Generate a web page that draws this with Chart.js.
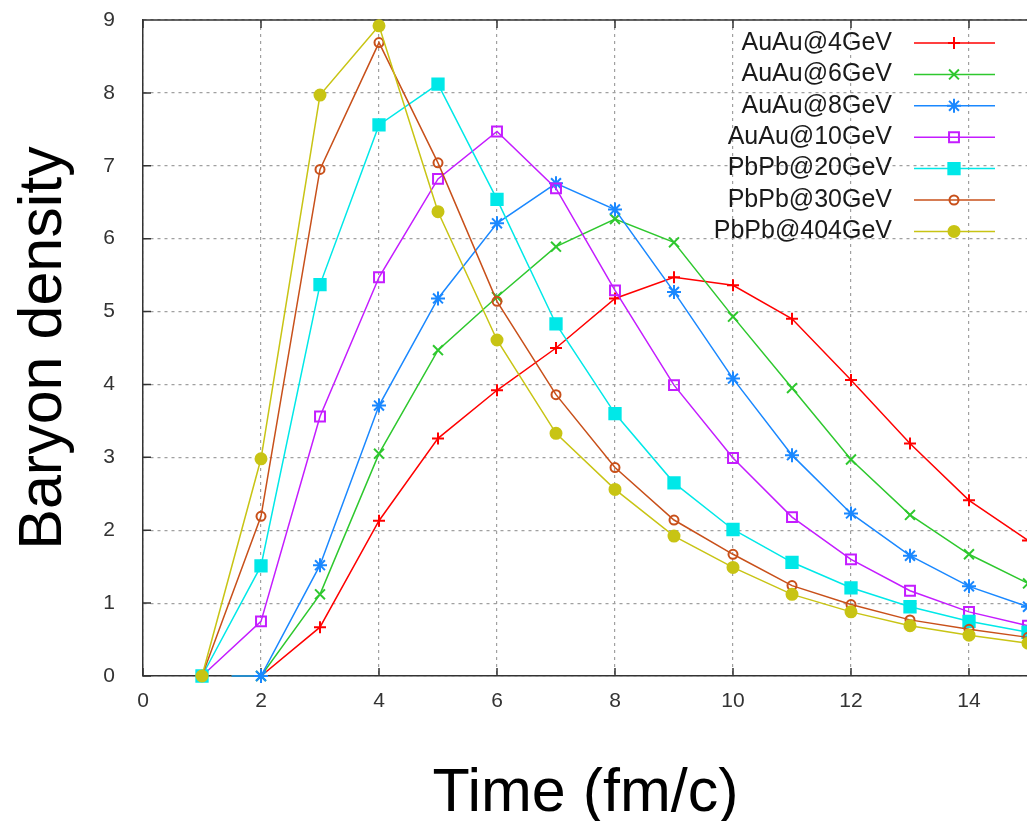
<!DOCTYPE html>
<html>
<head>
<meta charset="utf-8">
<script src="https://cdn.jsdelivr.net/npm/chart.js@4/dist/chart.umd.min.js"></script>
<style>
  html, body { margin: 0; padding: 0; background: #fff; overflow: hidden; }
  #wrap { width: 1027px; height: 821px; overflow: hidden; }
  #density-chart { display: block; }
</style>
</head>
<body>
<!-- the frame's right edge falls just outside the 1027px picture, so the canvas is a bit wider and cropped -->
<div id="wrap"><canvas id="density-chart" width="1038" height="821"></canvas></div>
<script>
// time points (fm/c)
let times = [1, 1.5, 2, 3, 4, 5, 6, 7, 8, 9, 10, 11, 12, 13, 14, 15];

let labels = ['AuAu@4GeV', 'AuAu@6GeV', 'AuAu@8GeV', 'AuAu@10GeV', 'PbPb@20GeV', 'PbPb@30GeV', 'PbPb@404GeV'];

// baryon density
let au4   = [null, 0, 0, 0.67, 2.13, 3.26, 3.92, 4.50, 5.18, 5.47, 5.36, 4.90, 4.06, 3.19, 2.41, 1.86];
let au6   = [null, 0, 0, 1.12, 3.05, 4.47, 5.20, 5.89, 6.27, 5.95, 4.93, 3.95, 2.97, 2.21, 1.67, 1.27];
let au8   = [null, 0, 0, 1.52, 3.71, 5.18, 6.21, 6.76, 6.40, 5.27, 4.08, 3.03, 2.23, 1.65, 1.23, 0.95];
let au10  = [0, null, 0.75, 3.56, 5.47, 6.82, 7.47, 6.69, 5.29, 3.99, 2.99, 2.18, 1.60, 1.17, 0.88, 0.69];
let pb20  = [0, null, 1.51, 5.37, 7.56, 8.12, 6.54, 4.83, 3.60, 2.65, 2.01, 1.56, 1.21, 0.95, 0.75, 0.60];
let pb30  = [0, null, 2.19, 6.95, 8.69, 7.04, 5.14, 3.86, 2.86, 2.14, 1.67, 1.24, 0.98, 0.77, 0.64, 0.53];
let pb404 = [0, null, 2.98, 7.97, 8.92, 6.37, 4.61, 3.33, 2.56, 1.92, 1.49, 1.12, 0.88, 0.69, 0.56, 0.45];

let series = [au4, au6, au8, au10, pb20, pb30, pb404];

let yTicks = [0, 1, 2, 3, 4, 5, 6, 7, 8, 9];
let xTicks = [0, 2, 4, 6, 8, 10, 12, 14];

// gnuplot-ish look
let colors = ['#ff0000', '#2ec82e', '#1a88ff', '#c41cff', '#00e8e8', '#c8501a', '#c8c414'];
let styles = [
    { pointStyle: 'cross',    radius: 6, fill: false },
    { pointStyle: 'crossRot', radius: 7, fill: false },
    { pointStyle: 'star',     radius: 7, fill: false },
    { pointStyle: 'rect',     radius: 7, fill: false },
    { pointStyle: 'rect',     radius: 8, fill: true },
    { pointStyle: 'circle',   radius: 4.5, fill: false },
    { pointStyle: 'circle',   radius: 5.5, fill: true }
];
let FONT = '"Liberation Sans", Arial, sans-serif';

function buildDatasets() {
    return series.map(function (vals, i) {
        let pts = [];
        let radii = [];
        times.forEach(function (t, k) {
            if (vals[k] === null) return;
            pts.push({ x: t, y: vals[k] });
            // the 1.5 fm/c point only carries the line, no marker
            radii.push(t === 1.5 ? 0 : styles[i].radius);
        });
        return {
            label: labels[i],
            data: pts,
            borderColor: colors[i],
            borderWidth: 1.5,
            pointStyle: styles[i].pointStyle,
            pointRadius: radii,
            pointBorderWidth: 2,
            pointBorderColor: colors[i],
            pointBackgroundColor: styles[i].fill ? colors[i] : 'rgba(0,0,0,0)',
            tension: 0,
            clip: false,
            order: -i
        };
    });
}

// inward tick marks, top border and the key box
let framePlugin = {
    id: 'frame',
    beforeDatasetsDraw(chart) {
        let ctx = chart.ctx;
        let a = chart.chartArea;
        let xs = chart.scales.x, ys = chart.scales.y;
        ctx.save();
        ctx.strokeStyle = '#333';
        ctx.lineWidth = 1.5;
        ctx.beginPath();
        ctx.moveTo(a.left, a.top);
        ctx.lineTo(a.right, a.top);
        xTicks.forEach(function (v) {
            let px = xs.getPixelForValue(v);
            ctx.moveTo(px, a.bottom); ctx.lineTo(px, a.bottom - 8);
            ctx.moveTo(px, a.top);    ctx.lineTo(px, a.top + 8);
        });
        yTicks.forEach(function (v) {
            let py = ys.getPixelForValue(v);
            ctx.moveTo(a.left, py); ctx.lineTo(a.left + 8, py);
        });
        ctx.stroke();
        ctx.restore();
    },
    afterDraw(chart) {
        let ctx = chart.ctx;
        let textRight = 892, lineL = 914, lineR = 995, markX = 954;
        ctx.save();
        ctx.font = '25px ' + FONT;
        ctx.textAlign = 'right';
        ctx.textBaseline = 'middle';
        chart.data.datasets.forEach(function (ds, i) {
            let y = 43 + i * 31.4;
            ctx.fillStyle = '#1a1a1a';
            ctx.fillText(ds.label, textRight, y);
            ctx.strokeStyle = ds.borderColor;
            ctx.lineWidth = 1.5;
            ctx.beginPath();
            ctx.moveTo(lineL, y);
            ctx.lineTo(lineR, y);
            ctx.stroke();
            if (Chart.helpers && Chart.helpers.drawPoint) {
                ctx.fillStyle = ds.pointBackgroundColor;
                ctx.strokeStyle = ds.pointBorderColor;
                ctx.lineWidth = 2;
                Chart.helpers.drawPoint(ctx, {
                    pointStyle: styles[i].pointStyle,
                    radius: styles[i].radius,
                    rotation: 0,
                    borderWidth: 2
                }, markX, y);
            }
        });
        ctx.restore();
    }
};

function drawChart(canvasId) {
    let chart_ele = document.getElementById(canvasId).getContext('2d');

    new Chart(chart_ele, {
        type: 'line',
        data: { datasets: buildDatasets() },
        options: {
            responsive: false,
            animation: false,
            events: [],
            spanGaps: true,
            layout: { padding: { top: 20, right: 0, bottom: 0, left: 0 } },
            plugins: {
                legend: { display: false },
                tooltip: { enabled: false }
            },
            scales: {
                x: {
                    type: 'linear',
                    min: 0,
                    max: 15,
                    afterFit: function (scale) {
                        scale.height = 145;
                        scale.paddingLeft = 0;
                        scale.paddingRight = 0;
                    },
                    ticks: {
                        stepSize: 2,
                        padding: 13,
                        color: '#333',
                        font: { family: FONT, size: 21 },
                        maxRotation: 0,
                        callback: function (v) { return xTicks.indexOf(v) >= 0 ? String(v) : ''; }
                    },
                    grid: { color: '#a0a0a0', lineWidth: 1.2, drawTicks: false },
                    border: { display: true, color: '#333', width: 1.5, dash: [3, 4] },
                    title: {
                        display: true,
                        text: 'Time (fm/c)',
                        color: '#000',
                        font: { family: FONT, size: 61, lineHeight: 0.88 },
                        padding: { top: 0, bottom: 0 }
                    }
                },
                y: {
                    min: 0,
                    max: 9,
                    afterFit: function (scale) {
                        scale.width = 143;
                        scale.paddingTop = 0;
                        scale.paddingBottom = 0;
                    },
                    ticks: {
                        stepSize: 1,
                        padding: 28,
                        color: '#333',
                        font: { family: FONT, size: 21 },
                        callback: function (v) { return yTicks.indexOf(v) >= 0 ? String(v) : ''; }
                    },
                    grid: { color: '#a0a0a0', lineWidth: 1.2, drawTicks: false },
                    border: { display: true, color: '#333', width: 1.5, dash: [3, 4] },
                    title: {
                        display: true,
                        text: 'Baryon density',
                        color: '#000',
                        font: { family: FONT, size: 61, lineHeight: 1 },
                        padding: { top: 14, bottom: 0 }
                    }
                }
            }
        },
        plugins: [framePlugin]
    });
}

drawChart('density-chart');
</script>
</body>
</html>
